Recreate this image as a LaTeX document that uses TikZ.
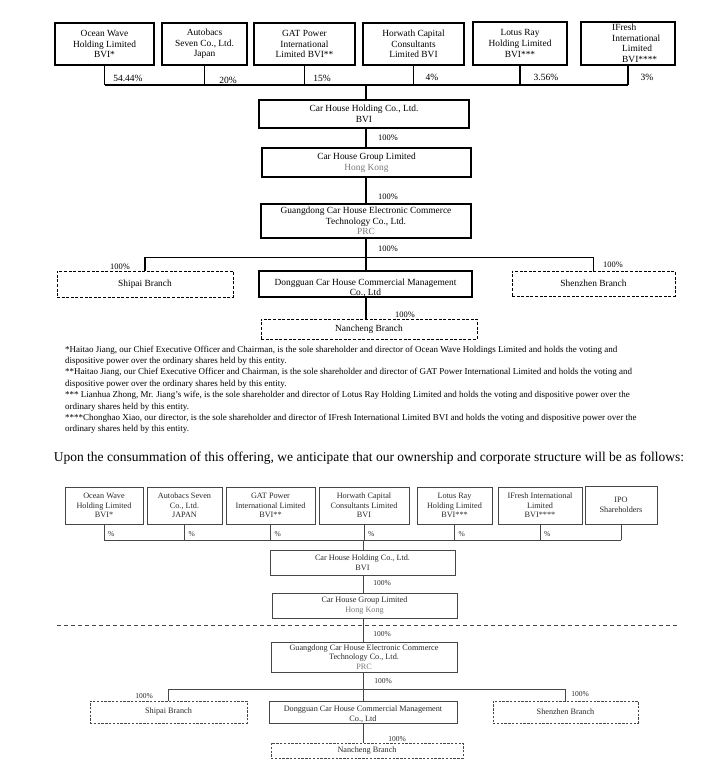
\documentclass[tikz,border=0pt]{standalone}
\usepackage{fontspec}
\setmainfont{Liberation Serif}
\usepackage{xcolor}
\usetikzlibrary{positioning, calc}
\definecolor{linegray}{RGB}{70, 70, 70}
\definecolor{textgray}{RGB}{40, 40, 40}
\definecolor{placegray}{RGB}{120, 120, 120}

\begin{document}
\begin{tikzpicture}[x=1pt, y=-1pt,
					box/.style={draw=black, line width=1.1pt, align=center, inner sep=0pt, font=\fontsize{9.4}{10.6}\selectfont},
					dbox/.style={box, line width=0.8pt, dash pattern=on 3pt off 1.6pt},
					lbox/.style={draw=linegray, line width=0.9pt, align=center, inner sep=0pt, text=textgray, font=\fontsize{8.2}{9.6}\selectfont},
					ldbox/.style={lbox, line width=0.6pt, dash pattern=on 2.4pt off 1.4pt},
					txt/.style={align=center, inner sep=0pt, font=\fontsize{9.4}{10.6}\selectfont},
					ltxt/.style={txt, text=textgray, font=\fontsize{8.2}{9.6}\selectfont},
					link/.style={draw=black, line width=1.1pt},
					llink/.style={draw=linegray, line width=0.9pt},
					pct/.style={inner sep=0pt, font=\fontsize{9.5}{10}\selectfont},
					cpct/.style={inner sep=0pt, font=\fontsize{8.4}{9}\selectfont},
					lpct/.style={inner sep=0pt, text=textgray, font=\fontsize{7.5}{8}\selectfont}
				]
				\useasboundingbox (0,0) rectangle (705,765);

				% 1. Current shareholders
				\node[box, minimum width=99pt, minimum height=42pt] (ocean) at (104.5,44) {Ocean Wave\\Holding Limited\\BVI*};
				\node[box, minimum width=85pt, minimum height=42pt] (autobacs) at (204.5,44) {Autobacs\\Seven Co., Ltd.\\Japan};
				\node[box, minimum width=101pt, minimum height=42pt] (gat) at (304.5,44) {GAT Power\\International\\Limited BVI**};
				\node[box, minimum width=101pt, minimum height=42pt] (horwath) at (413.5,44) {Horwath Capital\\Consultants\\Limited BVI};
				\node[box, minimum width=94pt, minimum height=43pt] (lotus) at (520,43.5) {Lotus Ray\\Holding Limited\\BVI***};
				\node[box, minimum width=94pt, minimum height=43pt] (ifresh) at (628,43.5) {};
				\node[txt, align=left, anchor=west] (ifreshtxt) at ([xshift=-16pt]ifresh.center) {IFresh\\International\\\hspace*{10pt}Limited\\\hspace*{10pt}BVI****};

				\coordinate (topbus) at (366,85);
				\foreach \n in {ocean, autobacs, gat, horwath, lotus, ifresh}
					\draw[link] (\n.south) -- (\n.south |- topbus);
				\draw[link] (ocean.south |- topbus) -- (ifresh.south |- topbus);

				\node[pct] (p1) at (128,78) {54.44\%};
				\node[pct] (p2) at (228,80) {20\%};
				\node[pct] (p3) at (322,78) {15\%};
				\node[pct] (p4) at (432,77) {4\%};
				\node[pct] (p5) at (546,77) {3.56\%};
				\node[pct] (p6) at (647,77) {3\%};

				% 2. Holding chain
				\node[box, minimum width=210pt, minimum height=28pt] (holding) at (364,114) {Car House Holding Co., Ltd.\\BVI};
				\node[box, minimum width=209pt, minimum height=29pt] (group) at (366.5,162.5) {Car House Group Limited\\\textcolor{placegray}{Hong Kong}};
				\node[box, minimum width=210pt, minimum height=34pt] (gdong) at (366,221) {Guangdong Car House Electronic Commerce\\Technology Co., Ltd.\\\textcolor{placegray}{PRC}};

				\draw[link] (topbus) -- (topbus |- holding.north);
				\draw[link] (holding.south -| topbus) -- (group.north -| topbus);
				\draw[link] (group.south -| topbus) -- (gdong.north -| topbus);
				\node[cpct] (c1) at (388,138) {100\%};
				\node[cpct] (c2) at (388,197) {100\%};
				\node[cpct] (c3) at (388,249) {100\%};

				% 3. Branches
				\node[dbox, minimum width=176pt, minimum height=26pt] (shipai) at (145,284) {Shipai Branch};
				\node[box, minimum width=213pt, minimum height=26pt] (dongguan) at (365.5,284) {};
				\node[txt] (dongguantxt) at ([yshift=-4pt]dongguan.center) {Dongguan Car House Commercial Management\\Co., Ltd};
				\node[dbox, minimum width=163pt, minimum height=25pt] (shenzhen) at (593.5,283.5) {Shenzhen Branch};
				\node[dbox, minimum width=216pt, minimum height=20pt] (nancheng) at (369,329) {Nancheng Branch};

				\coordinate (midbus) at (366,257.5);
				\draw[link] (gdong.south -| midbus) -- (dongguan.north -| midbus);
				\draw[link] (shipai.north) -- (shipai.north |- midbus) -- (shenzhen.north |- midbus) -- (shenzhen.north);
				\draw[link] (dongguan.south -| midbus) -- (nancheng.north -| midbus);
				\node[cpct] (c4) at (120,267) {100\%};
				\node[cpct] (c5) at (613,265) {100\%};
				\node[cpct] (c6) at (405,315) {100\%};

				% 4. Notes
				\node[anchor=north west, align=left, inner sep=0pt, font=\fontsize{9}{11.4}\selectfont] (notes) at (65,345.5) {%
					*Haitao Jiang, our Chief Executive Officer and Chairman, is the sole shareholder and director of Ocean Wave Holdings Limited and holds the voting and\\
					dispositive power over the ordinary shares held by this entity.\\
					**Haitao Jiang, our Chief Executive Officer and Chairman, is the sole shareholder and director of GAT Power International Limited and holds the voting and\\
					dispositive power over the ordinary shares held by this entity.\\
					*** Lianhua Zhong, Mr. Jiang’s wife, is the sole shareholder and director of Lotus Ray Holding Limited and holds the voting and dispositive power over the\\
					ordinary shares held by this entity.\\
					****Chonghao Xiao, our director, is the sole shareholder and director of IFresh International Limited BVI and holds the voting and dispositive power over the\\
					ordinary shares held by this entity.};
				\node[inner sep=0pt, font=\fontsize{13.5}{15}\selectfont] (upon) at (369,458) {Upon the consummation of this offering, we anticipate that our ownership and corporate structure will be as follows:};

				% 5. Shareholders after the offering
				\node[lbox, minimum width=78pt, minimum height=37pt] (loocean) at (104,505.5) {Ocean Wave\\Holding Limited\\BVI*};
				\node[lbox, minimum width=75pt, minimum height=37pt] (loautobacs) at (184.5,505.5) {Autobacs Seven\\Co., Ltd.\\JAPAN};
				\node[lbox, minimum width=89pt, minimum height=37pt] (logat) at (270.5,505.5) {GAT Power\\International Limited\\BVI**};
				\node[lbox, minimum width=90pt, minimum height=37pt] (lohorwath) at (364,505.5) {Horwath Capital\\Consultants Limited\\BVI};
				\node[lbox, minimum width=75pt, minimum height=37pt] (lolotus) at (454.5,505.5) {Lotus Ray\\Holding Limited\\BVI***};
				\node[lbox, minimum width=84pt, minimum height=37pt] (loifresh) at (540,505.5) {IFresh International\\Limited\\BVI****};
				\node[lbox, minimum width=72pt, minimum height=38pt] (loipo) at (621,505) {IPO\\Shareholders};

				\coordinate (lobus) at (363,540);
				\foreach \n in {loocean, loautobacs, logat, lohorwath, lolotus, loifresh, loipo}
					\draw[llink] (\n.south) -- (\n.south |- lobus);
				\draw[llink] (loocean.south |- lobus) -- (loipo.south |- lobus);
				\foreach \n in {loocean, loautobacs, logat, lohorwath, lolotus, loifresh}
					\node[lpct, anchor=west] (\n pct) at ([xshift=4pt,yshift=6pt]\n.south |- lobus) {\%};

				% 6. Holding chain after the offering
				\node[lbox, minimum width=185pt, minimum height=25pt] (loholding) at (362.5,562.5) {Car House Holding Co., Ltd.\\BVI};
				\node[lbox, minimum width=185pt, minimum height=25pt] (logroup) at (364.5,605.5) {Car House Group Limited\\\textcolor{placegray}{Hong Kong}};
				\node[lbox, minimum width=186pt, minimum height=30pt] (logdong) at (364,657) {Guangdong Car House Electronic Commerce\\Technology Co., Ltd.\\\textcolor{placegray}{PRC}};
				\draw[llink, dash pattern=on 4pt off 3pt] (57,625) -- (678,625);

				\draw[llink] (lobus) -- (lobus |- loholding.north);
				\draw[llink] (loholding.south -| lobus) -- (logroup.north -| lobus);
				\draw[llink] (logroup.south -| lobus) -- (logdong.north -| lobus);
				\node[lpct] (lc1) at (382,583) {100\%};
				\node[lpct] (lc2) at (382,634) {100\%};
				\node[lpct] (lc3) at (383,681) {100\%};

				% 7. Branches after the offering
				\node[ldbox, minimum width=157pt, minimum height=22pt] (loshipai) at (168.5,712) {Shipai Branch};
				\node[lbox, minimum width=188pt, minimum height=22pt] (lodongguan) at (363,712) {};
				\node[ltxt] (lodongguantxt) at ([yshift=-2pt]lodongguan.center) {Dongguan Car House Commercial Management\\Co., Ltd};
				\node[ldbox, minimum width=145pt, minimum height=22pt] (loshenzhen) at (565.5,712) {Shenzhen Branch};
				\node[ldbox, minimum width=192pt, minimum height=15pt] (lonancheng) at (367,750.5) {Nancheng Branch};

				\coordinate (lomidbus) at (363,689);
				\draw[llink] (logdong.south -| lomidbus) -- (lodongguan.north -| lomidbus);
				\draw[llink] (loshipai.north) -- (loshipai.north |- lomidbus) -- (loshenzhen.north |- lomidbus) -- (loshenzhen.north);
				\draw[llink] (lodongguan.south -| lomidbus) -- (lonancheng.north -| lomidbus);
				\node[lpct] (lc4) at (144,696) {100\%};
				\node[lpct] (lc5) at (580,694) {100\%};
				\node[lpct] (lc6) at (397,739) {100\%};

			\end{tikzpicture}
\end{document}
